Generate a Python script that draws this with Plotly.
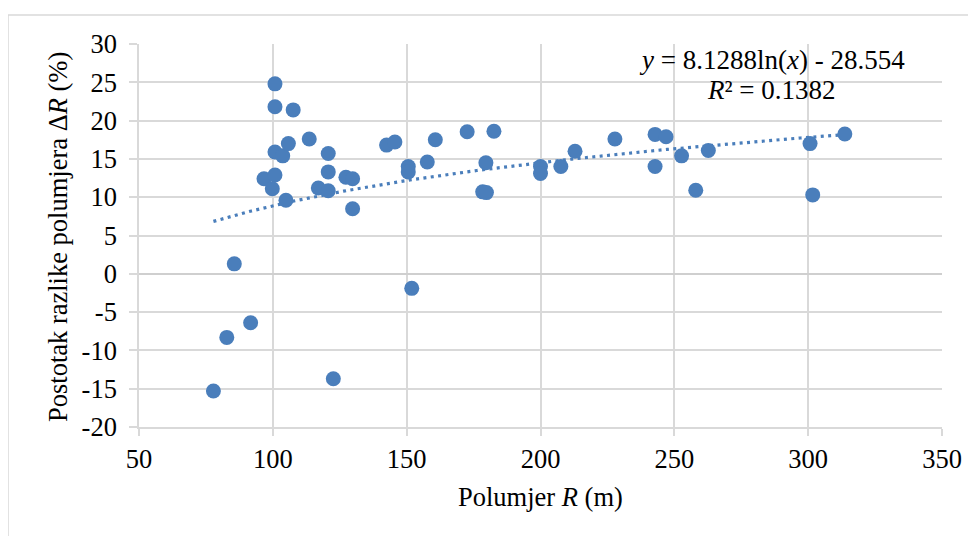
import numpy as np
import plotly.graph_objects as go

# ---- data ----
radius_m = [77.8, 82.8, 85.6, 91.7, 96.7, 99.8, 100.8, 100.8, 100.8, 100.8,
            103.7, 104.9, 105.8, 107.6, 113.6, 117.0, 120.7, 120.7, 120.7, 122.6,
            127.3, 129.8, 129.8, 142.5, 145.6, 150.6, 150.6, 151.9, 157.7, 160.7,
            172.6, 178.4, 179.8, 179.6, 182.6, 200.0, 200.0, 207.6, 212.9, 227.8,
            242.8, 242.8, 246.9, 252.7, 258.0, 262.7, 300.7, 301.7, 313.7]
delta_pct = [-15.3, -8.3, 1.3, -6.4, 12.4, 11.1, 24.8, 21.8, 15.9, 12.9,
             15.4, 9.6, 17.0, 21.4, 17.6, 11.2, 15.7, 13.3, 10.85, -13.7,
             12.6, 12.4, 8.5, 16.8, 17.2, 14.0, 13.3, -1.9, 14.6, 17.5,
             18.55, 10.7, 10.6, 14.5, 18.6, 14.0, 13.1, 14.0, 16.0, 17.6,
             18.2, 14.0, 17.9, 15.4, 10.9, 16.1, 17.0, 10.3, 18.25]

# logarithmic trendline coefficients shown on the chart
trend_a = 8.1288
trend_b = -28.554
eq_line1 = "<i>y</i> = 8.1288ln(<i>x</i>) - 28.554"
eq_line2 = "<i>R</i>² = 0.1382"

x_ticks = [50, 100, 150, 200, 250, 300, 350]
y_ticks = [-20, -15, -10, -5, 0, 5, 10, 15, 20, 25, 30]
y_ticktext = ["-20", "-15", "-10", "-5", "0", "5", "10", "15", "20", "25", "30"]

FONT = "'Liberation Serif', 'Times New Roman', serif"
BLUE = "#4a7ebb"
GRID = "#d9d9d9"
TICK_SIZE = 26.5
TEXT_SIZE = 26.5
EQ_SIZE = 27

tx = np.linspace(min(radius_m), max(radius_m), 200)
ty = trend_a * np.log(tx) + trend_b

fig = go.Figure()
fig.add_trace(go.Scatter(x=tx, y=ty, mode="lines",
                         line=dict(color=BLUE, width=3.2, dash="3px,4.4px"),
                         hoverinfo="skip", showlegend=False))
fig.add_trace(go.Scatter(x=radius_m, y=delta_pct, mode="markers",
                         marker=dict(color=BLUE, size=15, line=dict(width=0)),
                         showlegend=False))

# page body has an 8px default margin, so the figure is shifted by 8px
OFF = 8
L, T, PW, PH = 139 - OFF, 44 - OFF, 803, 383

fig.update_layout(
    width=976, height=536,
    margin=dict(l=L, r=976 - L - PW, t=T, b=536 - T - PH, autoexpand=False),
    paper_bgcolor="white", plot_bgcolor="white",
    font=dict(family=FONT, size=TEXT_SIZE, color="#000000"),
    xaxis=dict(range=[50, 350], tickvals=x_ticks, showgrid=True, gridcolor=GRID,
               gridwidth=1.5, showline=True, linecolor=GRID, linewidth=1.5,
               ticks="outside", ticklen=7, tickcolor=GRID, tickwidth=1.5,
               zeroline=False, tickfont=dict(family=FONT, size=TICK_SIZE)),
    yaxis=dict(range=[-20, 30], tickvals=y_ticks, ticktext=y_ticktext,
               showgrid=True, gridcolor=GRID,
               gridwidth=1.5, showline=True, linecolor=GRID, linewidth=1.5,
               ticks="outside", ticklen=8, tickcolor=GRID, tickwidth=1.5,
               ticklabelstandoff=7,
               zeroline=True, zerolinecolor="#cfcfcf", zerolinewidth=1.8,
               tickfont=dict(family=FONT, size=TICK_SIZE)),
    shapes=[dict(type="rect", xref="paper", yref="paper",
                 x0=(8 - 139) / PW, x1=1.2, y0=-0.6, y1=1 + (44 - 15) / PH,
                 line=dict(color=GRID, width=1.5), layer="below")],
    annotations=[
        dict(text=eq_line1, xref="paper", yref="paper",
             x=(771.5 - 139) / PW, y=1 - (60 - 44) / PH,
             xanchor="center", yanchor="middle", showarrow=False,
             font=dict(family=FONT, size=EQ_SIZE)),
        dict(text=eq_line2, xref="paper", yref="paper",
             x=(771.5 - 139) / PW, y=1 - (90 - 44) / PH,
             xanchor="center", yanchor="middle", showarrow=False,
             font=dict(family=FONT, size=EQ_SIZE)),
        dict(text="Polumjer <i>R</i> (m)", xref="paper", yref="paper",
             x=(540 - 139) / PW, y=(427 - 497) / PH,
             xanchor="center", yanchor="middle", showarrow=False,
             font=dict(family=FONT, size=TEXT_SIZE)),
        dict(text="Postotak razlike polumjera Δ<i>R</i> (%)", xref="paper", yref="paper",
             x=(58 - 139) / PW, y=(427 - 237) / PH, textangle=-90,
             xanchor="center", yanchor="middle", showarrow=False,
             font=dict(family=FONT, size=TEXT_SIZE)),
    ],
)

fig.write_html("out.html")
